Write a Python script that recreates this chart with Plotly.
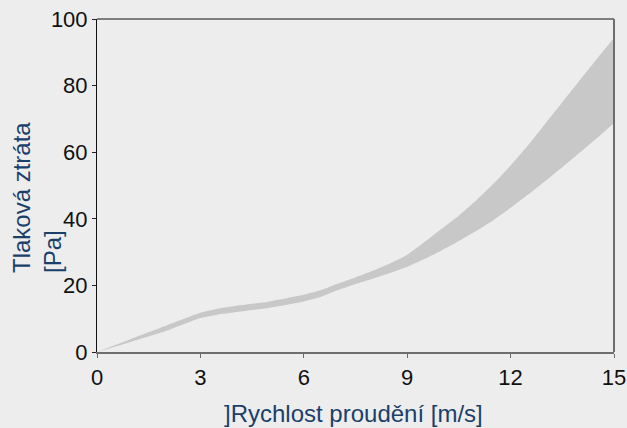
import plotly.graph_objects as go

speed = [0, 1, 2, 3, 3.5, 4, 5, 6, 6.5, 7, 7.5, 8, 8.5, 9, 9.5, 10, 10.5, 11, 11.5, 12, 12.5, 13, 13.5, 14, 14.5, 15]
upper = [0, 4.0, 7.9, 11.8, 13.0, 13.8, 15.2, 17.2, 18.6, 20.6, 22.4, 24.4, 26.6, 29.2, 33.0, 37.0, 41.0, 45.5, 50.5, 56.0, 62.0, 68.5, 75.0, 81.5, 88.0, 94.3]
lower = [0, 3.1, 6.3, 10.2, 11.2, 11.9, 13.3, 15.2, 16.6, 18.6, 20.4, 22.0, 23.7, 25.6, 27.9, 30.5, 33.3, 36.3, 39.6, 43.3, 47.2, 51.3, 55.5, 59.8, 64.2, 68.8]

x_ticks = [0, 3, 6, 9, 12, 15]
y_ticks = [0, 20, 40, 60, 80, 100]
x_title = "]Rychlost proudění [m/s]"
y_title = "Tlaková ztráta<br>[Pa]"

BG = "#ededed"
BAND = "#c8c8c8"
TITLE_COLOR = "#1b3f6b"
FONT = "Liberation Sans, Arial, sans-serif"

fig = go.Figure()
fig.add_trace(go.Scatter(x=speed, y=lower, mode="lines", line=dict(width=0, color=BAND, shape="spline", smoothing=0.5),
                         showlegend=False, hoverinfo="skip"))
fig.add_trace(go.Scatter(x=speed, y=upper, mode="lines", line=dict(width=0, color=BAND, shape="spline", smoothing=0.5),
                         fill="tonexty", fillcolor=BAND, showlegend=False, hoverinfo="skip"))

fig.update_layout(
    width=627, height=428,
    margin=dict(l=97, r=13, t=19, b=76, autoexpand=False),
    paper_bgcolor=BG, plot_bgcolor=BG,
    font=dict(family=FONT, size=22, color="#111111"),
    xaxis=dict(range=[0, 15], tickvals=x_ticks, ticks="outside", ticklen=4, tickcolor="#6e6e6e",
               showline=True, linecolor="#6e6e6e", linewidth=2, showgrid=False, zeroline=False,
               tickfont=dict(size=22), ticklabelstandoff=1, automargin=False),
    yaxis=dict(range=[0, 100], tickvals=y_ticks, ticks="outside", ticklen=4, tickcolor="#222222",
               showline=True, linecolor="#111111", linewidth=1, showgrid=False, zeroline=False,
               tickfont=dict(size=22), automargin=False),
    shapes=[
        dict(type="line", xref="paper", yref="paper", x0=0, x1=1, y0=1, y1=1,
             line=dict(color="#111111", width=1)),
        dict(type="line", xref="paper", yref="paper", x0=1, x1=1, y0=0, y1=1,
             line=dict(color="#6e6e6e", width=2)),
    ],
    annotations=[
        dict(text=y_title, xref="paper", yref="paper", x=-0.116, y=0.4625,
             xanchor="center", yanchor="middle", textangle=-90, align="left",
             showarrow=False, font=dict(size=24, color=TITLE_COLOR, family=FONT)),
        dict(text=x_title, xref="paper", yref="paper", x=0.497, y=-0.186,
             xanchor="center", yanchor="middle", showarrow=False,
             font=dict(size=24, color=TITLE_COLOR, family=FONT)),
    ],
)

fig.write_html(
    "out.html",
    config={"displayModeBar": False},
    post_script="document.body.style.margin='0';document.body.style.background='#ededed';",
)
